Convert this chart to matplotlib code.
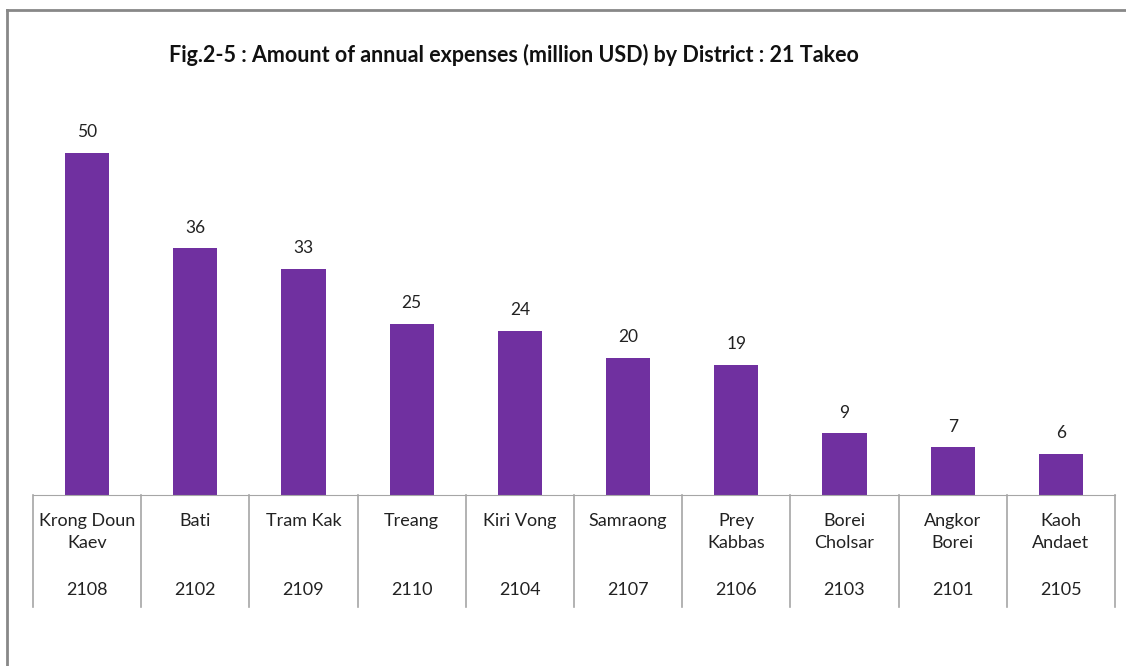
import matplotlib.pyplot as plt
from matplotlib.transforms import blended_transform_factory

districts = ["Krong Doun\nKaev", "Bati", "Tram Kak", "Treang", "Kiri Vong",
             "Samraong", "Prey\nKabbas", "Borei\nCholsar", "Angkor\nBorei", "Kaoh\nAndaet"]
codes = ["2108", "2102", "2109", "2110", "2104", "2107", "2106", "2103", "2101", "2105"]
expenses = [50, 36, 33, 25, 24, 20, 19, 9, 7, 6]

plt.rcParams['font.family'] = ['Lato', 'DejaVu Sans']

fig = plt.figure(figsize=(11.26, 6.66), dpi=100)
W, H = 1126, 666
ax = fig.add_axes([33 / W, 171 / H, 1082 / W, 411 / H])

x = range(len(expenses))
bars = ax.bar(x, expenses, width=0.41, color="#7030A0")
for b, v in zip(bars, expenses):
    ax.annotate(str(v), (b.get_x() + b.get_width() / 2, v), xytext=(0, 9),
                textcoords="offset points", ha="center", va="bottom",
                fontsize=12.5, color="#222222")

ax.set_xlim(-0.5, len(expenses) - 0.5)
ax.set_ylim(0, 60)
ax.set_xticks([])
ax.set_yticks([])
for s in ["top", "left", "right"]:
    ax.spines[s].set_visible(False)
ax.spines["bottom"].set_color("#a6a6a6")

# category table below the axis
tr = blended_transform_factory(ax.transData, ax.transAxes)
depth = -112 / 411
for i in range(len(expenses) + 1):
    ax.plot([i - 0.5, i - 0.5], [0, depth], transform=tr, color="#a6a6a6",
            lw=1.2, clip_on=False)
for i, (name, code) in enumerate(zip(districts, codes)):
    ax.text(i, -18 / 411, name, transform=tr, ha="center", va="top",
            fontsize=13, color="#222222", linespacing=1.45)
    ax.text(i, -95 / 411, code, transform=tr, ha="center", va="center",
            fontsize=13, color="#222222")

fig.text(514 / W, 1 - 55 / H, "Fig.2-5 : Amount of annual expenses (million USD) by District : 21 Takeo",
         ha="center", va="center", fontsize=15.5, fontweight="bold", color="#111111")

# outer frame (top and left edges visible)
fig.add_artist(plt.Line2D([7 / W, 7 / W], [0, 1 - 10 / H], color="#888888", lw=2))
fig.add_artist(plt.Line2D([7 / W, 1], [1 - 10 / H, 1 - 10 / H], color="#888888", lw=2))

fig.savefig("out.png", dpi=100)
